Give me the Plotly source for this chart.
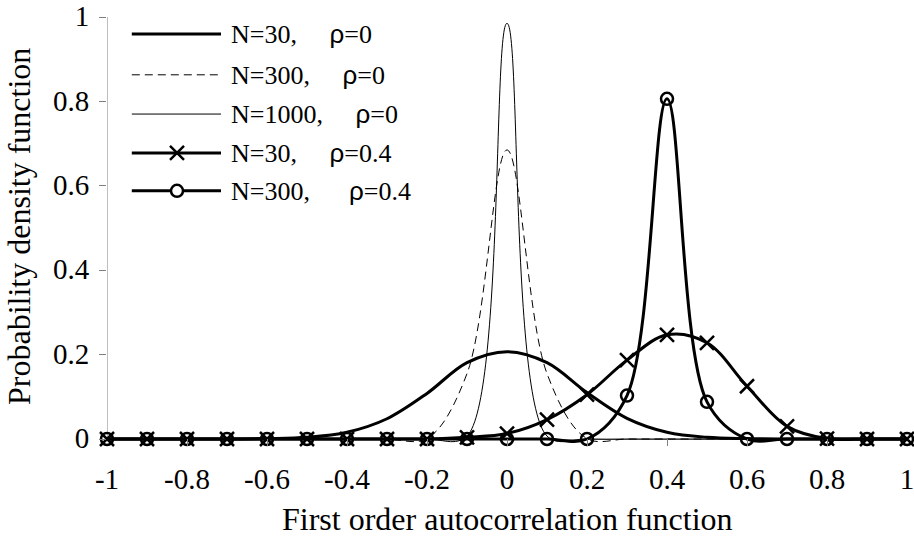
import plotly.graph_objects as go

# first order autocorrelation (x categories)
r = [-1.0, -0.9, -0.8, -0.7, -0.6, -0.5, -0.4, -0.3, -0.2, -0.1, 0.0,
     0.1, 0.2, 0.3, 0.4, 0.5, 0.6, 0.7, 0.8, 0.9, 1.0]

# probability density values
n30_r0 = [0, 0, 0, 0, 0.001, 0.004, 0.016, 0.048, 0.108, 0.181, 0.207,
          0.181, 0.110, 0.049, 0.016, 0.004, 0.001, 0, 0, 0, 0]
n300_r0 = [0, 0, 0, 0, 0, 0, 0, 0, 0.001, 0.155, 0.685,
           0.155, 0.001, 0, 0, 0, 0, 0, 0, 0, 0]
n1000_r0 = [0, 0, 0, 0, 0, 0, 0, 0, 0, 0.007, 0.985,
            0.007, 0, 0, 0, 0, 0, 0, 0, 0, 0]
n30_r04 = [0, 0, 0, 0, 0, 0, 0, 0, 0, 0.004, 0.013,
           0.046, 0.105, 0.187, 0.247, 0.228, 0.125, 0.030, 0.001, 0, 0]
n300_r04 = [0, 0, 0, 0, 0, 0, 0, 0, 0, 0, 0,
            0, 0, 0.103, 0.806, 0.088, 0, 0, 0, 0, 0]

names = ["N=30,", "N=300,", "N=1000,", "N=30,", "N=300,"]
rhos = ["ρ=0", "ρ=0", "ρ=0", "ρ=0.4", "ρ=0.4"]
gaps = [5, 5, 5, 5, 6]  # spaces between N and rho in the legend labels

x_ticks = [-1, -0.8, -0.6, -0.4, -0.2, 0, 0.2, 0.4, 0.6, 0.8, 1]
x_labels = ["-1", "-0.8", "-0.6", "-0.4", "-0.2", "0", "0.2", "0.4", "0.6", "0.8", "1"]
y_ticks = [0, 0.2, 0.4, 0.6, 0.8, 1]
y_labels = ["0", "0.2", "0.4", "0.6", "0.8", "1"]

FONT = "Liberation Serif, Times New Roman, serif"
GREY = "#808080"

styles = [
    dict(line=dict(color="black", width=3), mode="lines"),
    dict(line=dict(color="black", width=1, dash="8px,5px"), mode="lines"),
    dict(line=dict(color="black", width=1), mode="lines"),
    dict(line=dict(color="black", width=3), mode="lines+markers",
         marker=dict(symbol="x-thin", size=14, line=dict(color="black", width=2.5))),
    dict(line=dict(color="black", width=3), mode="lines+markers",
         marker=dict(symbol="circle-open", size=12, color="black", line=dict(color="black", width=2.5))),
]
series = [n30_r0, n300_r0, n1000_r0, n30_r04, n300_r04]

fig = go.Figure()
for ys, st in zip(series, styles):
    line = dict(st["line"], shape="spline", smoothing=1)
    fig.add_trace(go.Scatter(x=r, y=ys, mode=st["mode"], line=line,
                             marker=st.get("marker"), cliponaxis=False,
                             showlegend=False))

# hand-made legend on an overlay axis (long sample lines like the original)
lx0, lxm, lx1, ltext = 0.031, 0.0875, 0.1425, 0.152
row_y = [0.960, 0.863, 0.770, 0.678, 0.588]
annotations = []
for i, st in enumerate(styles):
    fig.add_trace(go.Scatter(x=[lx0, lx1], y=[row_y[i]] * 2, mode="lines",
                             line=st["line"], xaxis="x2", yaxis="y2",
                             showlegend=False, hoverinfo="skip"))
    if "marker" in st:
        mk = dict(st["marker"])
        if mk["symbol"] == "circle-open":
            mk = dict(symbol="circle", size=12, color="white",
                      line=dict(color="black", width=2.5))
        fig.add_trace(go.Scatter(x=[lxm], y=[row_y[i]], mode="markers",
                                 marker=mk, xaxis="x2", yaxis="y2",
                                 showlegend=False, hoverinfo="skip", cliponaxis=False))
    label = (names[i] + "\u00a0" * gaps[i]
             + "<span style=\"font-family:'Liberation Sans', Arial\">ρ</span>" + rhos[i][1:])
    annotations.append(dict(x=ltext, y=row_y[i], xref="x2", yref="y2", text=label,
                            showarrow=False, xanchor="left", yanchor="middle",
                            font=dict(family=FONT, size=26, color="black")))

# axis titles
annotations.append(dict(text="First order autocorrelation function", x=0.5, y=-0.171,
                        xref="paper", yref="paper", showarrow=False,
                        xanchor="center", yanchor="middle", font=dict(size=32)))
annotations.append(dict(text="Probability density function", x=-0.11, y=0.5105,
                        xref="paper", yref="paper", showarrow=False, textangle=-90,
                        xanchor="center", yanchor="middle", font=dict(size=32)))

ymin = -7 / 422
fig.update_layout(
    width=914, height=543,
    margin=dict(l=107, r=7, t=17, b=97),
    paper_bgcolor="white", plot_bgcolor="white",
    font=dict(family=FONT, size=29, color="black"),
    xaxis=dict(range=[-1, 1], tickvals=x_ticks, ticktext=x_labels,
               showgrid=False, zeroline=False, showline=False, automargin=False,
               ticks="inside", ticklen=7, tickcolor=GREY, tickwidth=1,
               ticklabelstandoff=13, ticklabeloverflow="allow"),
    yaxis=dict(range=[ymin, 1], tickvals=y_ticks, ticktext=y_labels,
               showgrid=False, zeroline=True, zerolinecolor=GREY, zerolinewidth=1,
               showline=False, ticks="outside", ticklen=7, tickcolor=GREY,
               ticklabelstandoff=4, ticklabelshift=-1, ticklabeloverflow="allow",
               automargin=False),
    xaxis2=dict(range=[0, 1], overlaying="x", visible=False, fixedrange=True),
    yaxis2=dict(range=[ymin, 1], overlaying="y", visible=False, fixedrange=True),
    shapes=[dict(type="line", xref="x", yref="y", x0=-1, x1=-1, y0=0, y1=1,
                 line=dict(color=GREY, width=1), layer="below")],
    annotations=annotations,
)

fig.write_html("out.html", config={"displayModeBar": False},
               post_script="document.body.style.margin='0';")
